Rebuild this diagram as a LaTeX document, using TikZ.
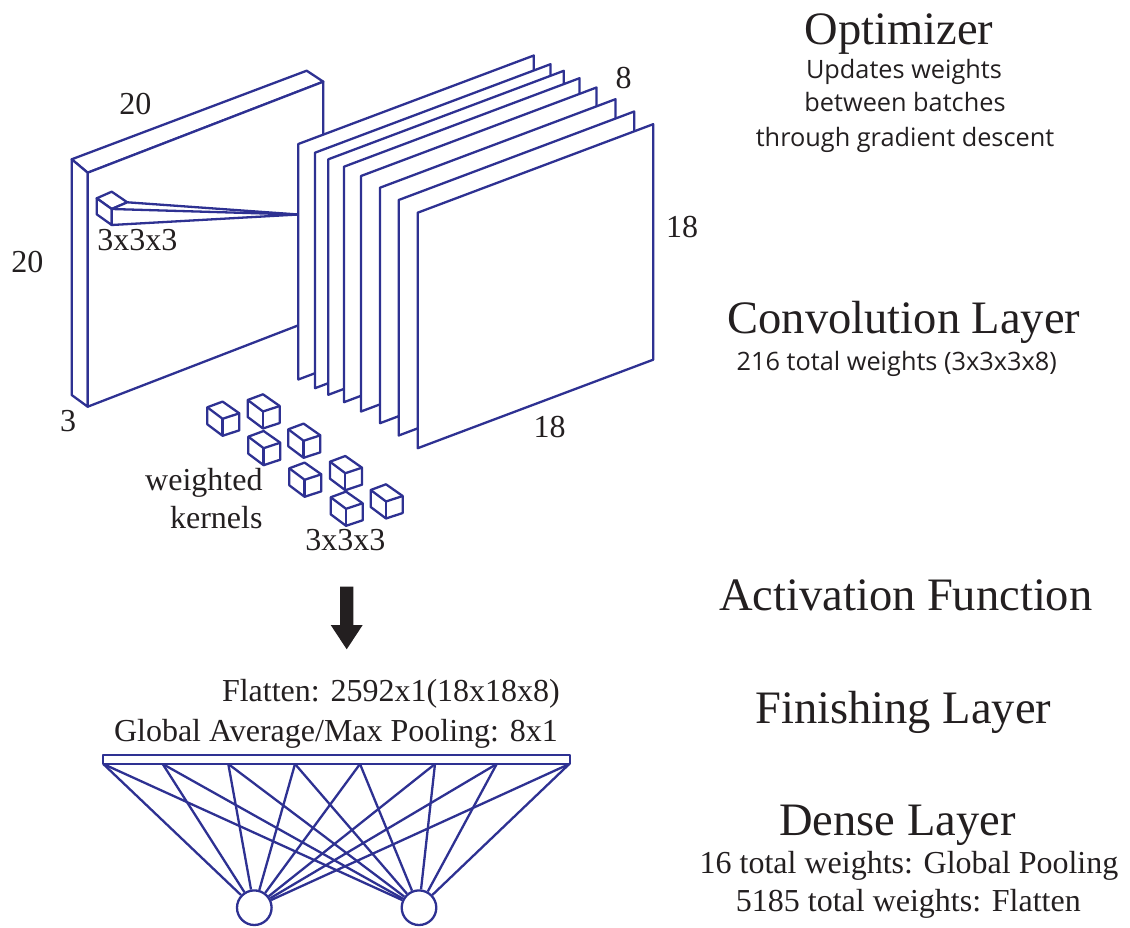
\documentclass[tikz,border=0pt]{standalone}
\usepackage{fontspec}
\setmainfont{Liberation Serif}
\newfontfamily\sansf{Open Sans}
\usetikzlibrary{calc}
\definecolor{lblue}{HTML}{2E3192}
\definecolor{ink}{HTML}{231F20}
\begin{document}
\begin{tikzpicture}[x=1pt,y=-1pt,
  line/.style={draw=lblue,line width=2.3pt,line join=round},
  face/.style={line,fill=white},
  title/.style={text=ink,font=\fontsize{46.5}{50}\selectfont,anchor=base,inner sep=0},
  lab/.style={text=ink,font=\fontsize{32}{36}\selectfont,anchor=base,inner sep=0},
  sub/.style={text=ink,font=\sansf\fontsize{25.3}{29}\selectfont,anchor=base,inner sep=0},
  kcube/.pic={
    \path[face] (0,0)--(15.3,-5.7)--(32,6)--(32,23)--(15.3,28.5)--(0,17)--cycle;
    \draw[line] (0,0)--(15.3,11.5)--(32,6);
    \draw[line] (15.3,11.5)--(15.3,28.5);
  }
]
\useasboundingbox[fill=white] (0,0) rectangle (1130,928);

% ---- input block 20x20x3 ----
\path[face] (71.7,159.3)--(306.7,70.7)--(323.3,81.7)--(87.7,172.7)--cycle;
\path[face] (71.7,159.3)--(87.7,172.7)--(87.7,406.7)--(71.7,395)--cycle;
\path[face] (87.7,172.7)--(323.3,81.7)--(323.3,315.7)--(87.7,406.7)--cycle;

% small kernel on the input with its receptive-field pyramid
\coordinate (apex) at (298.3,214.5);
\path[face] (96.7,198.3)--(111.7,191.7)--(127.3,202.3)--(111.7,209)--cycle;
\path[face] (96.7,198.3)--(111.7,209)--(111.7,225)--(96.7,214.3)--cycle;
\path[face] (127.3,202.3)--(apex)--(111.7,225)--(111.7,209)--cycle;
\draw[line] (111.7,209)--(apex);

% ---- 8 feature maps 18x18 ----
\foreach \xl/\yt in {298.3/144,315/152.7,328.3/159.3,344/166.7,361/176,380/187.7,398.7/200,417.7/212.7}{
  \path[face] (\xl,\yt)--++(235.5,-88.5)--++(0,235.5)--++(-235.5,88.5)--cycle;
}

% ---- weighted kernels ----
\foreach \cx/\cy in {207.3/407.3,247.7/400,248.3/436.7,288.3/429.3,289.3/468.3,330/461.7,330.7/497.3,370.7/490}{
  \pic at (\cx,\cy) {kcube};
}

% ---- labels of the convolution part ----
\node[lab] (l20a) at (135.3,115) {20};
\node[lab] (l20b) at (27.5,272.7) {20};
\node[lab] (l3) at (68,431.7) {3};
\node[lab] (lk1) at (137.3,250.7) {3x3x3};
\node[lab] (l8) at (623.5,89) {8};
\node[lab] (l18a) at (682,238) {18};
\node[lab] (l18b) at (549.5,437) {18};
\node[lab,anchor=base east] (lw) at (262.7,490) {weighted};
\node[lab,anchor=base east] (lkn) at (262.7,528.3) {kernels};
\node[lab] (lk2) at (345.3,550) {3x3x3};

% ---- arrow ----
\path[fill=ink] (340,586.7)--(353.3,586.7)--(353.3,625)--(362.7,625)--(346.7,649.3)--(330.7,625)--(340,625)--cycle;

% ---- finishing layer texts ----
\node[lab,anchor=base east] (lfl) at (560,701.7) {Flatten: 2592x1(18x18x8)};
\node[lab,anchor=base east] (lgp) at (558,741.7) {Global Average/Max Pooling: 8x1};

% ---- dense layer ----
\path[face] (102.7,755) rectangle (570,764);
\node[draw=lblue,line width=2.3pt,fill=white,circle,minimum size=34.6pt,inner sep=0] (n1) at (254.3,907.7) {};
\node[draw=lblue,line width=2.3pt,fill=white,circle,minimum size=34.6pt,inner sep=0] (n2) at (419,907.7) {};
\foreach \i/\px in {1/103.3,2/162.7,3/228.3,4/295,5/360,6/435,7/496.7,8/569.3}{
  \coordinate (p\i) at (\px,764);
  \draw[line] (p\i)--(n1);
  \draw[line] (p\i)--(n2);
}

% ---- right-hand titles ----
\node[title] (opt) at (899,45) {Optimizer};
\node[sub] (o1) at (904,78.3) {Updates weights};
\node[sub] (o2) at (905,111.7) {between batches};
\node[sub] (o3) at (905,146.7) {through gradient descent};
\node[title] (conv) at (904,333.3) {Convolution Layer};
\node[sub] (c1) at (896.7,370) {216 total weights (3x3x3x8)};
\node[title] (act) at (905.8,610) {Activation Function};
\node[title] (fin) at (903.3,723.3) {Finishing Layer};
\node[title] (den) at (897.5,835) {Dense Layer};
\node[lab] (d1) at (909,873.3) {16 total weights: Global Pooling};
\node[lab] (d2) at (908.3,911.7) {5185 total weights: Flatten};
\end{tikzpicture}
\end{document}
